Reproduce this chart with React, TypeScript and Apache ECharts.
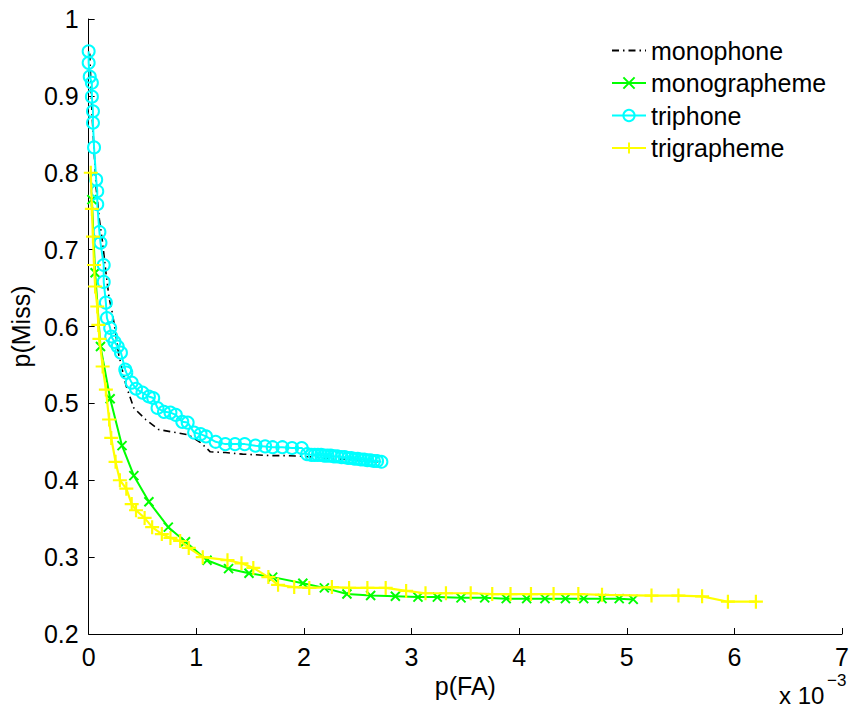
import React, { useEffect, useRef } from "react";
import * as echarts from "echarts";

// x values in units of 1e-3
const monophone: number[][] = [
  [0.01, 0.955], [0.02, 0.92], [0.03, 0.88], [0.05, 0.83], [0.07, 0.78], [0.10, 0.739],
  [0.13, 0.709], [0.16, 0.671], [0.19, 0.637], [0.22, 0.618], [0.25, 0.592], [0.28, 0.563],
  [0.31, 0.545], [0.35, 0.522], [0.42, 0.494], [0.53, 0.479], [0.65, 0.466], [0.81, 0.462],
  [0.93, 0.459], [1.04, 0.449], [1.13, 0.437], [1.27, 0.436], [1.43, 0.434], [1.70, 0.432],
  [1.85, 0.432], [2.0, 0.431], [2.2, 0.429], [2.4, 0.427], [2.55, 0.425], [2.70, 0.424],
];

const monographeme: number[][] = [
  [0.03, 0.765], [0.06, 0.67], [0.11, 0.574], [0.20, 0.506], [0.31, 0.445], [0.42, 0.406],
  [0.56, 0.372], [0.74, 0.339], [0.90, 0.320], [1.10, 0.296], [1.30, 0.285], [1.49, 0.279],
  [1.71, 0.274], [1.99, 0.266], [2.19, 0.260], [2.40, 0.252], [2.62, 0.250], [2.85, 0.249],
  [3.06, 0.248], [3.24, 0.248], [3.46, 0.247], [3.68, 0.247], [3.88, 0.246], [4.07, 0.246],
  [4.24, 0.246], [4.43, 0.246], [4.60, 0.246], [4.77, 0.246], [4.93, 0.246], [5.06, 0.245],
];

const triphone: number[][] = [
  [0.0, 0.958], [0.0, 0.943], [0.01, 0.925], [0.03, 0.917], [0.03, 0.899], [0.04, 0.880],
  [0.04, 0.865], [0.05, 0.833], [0.07, 0.791], [0.08, 0.776], [0.08, 0.759], [0.10, 0.723],
  [0.11, 0.709], [0.14, 0.680], [0.14, 0.658], [0.16, 0.631], [0.17, 0.611], [0.20, 0.598],
  [0.21, 0.587], [0.24, 0.580], [0.27, 0.574], [0.30, 0.566], [0.34, 0.544], [0.35, 0.540],
  [0.40, 0.527], [0.44, 0.519], [0.50, 0.514], [0.56, 0.509], [0.60, 0.507], [0.64, 0.494],
  [0.70, 0.489], [0.76, 0.488], [0.81, 0.485], [0.87, 0.476], [0.92, 0.475], [0.98, 0.462],
  [1.04, 0.460], [1.09, 0.457], [1.18, 0.450], [1.27, 0.447], [1.36, 0.447], [1.45, 0.447],
  [1.55, 0.445], [1.64, 0.444], [1.71, 0.443], [1.80, 0.443], [1.89, 0.442], [1.98, 0.442],
  [2.03, 0.434], [2.07, 0.433], [2.10, 0.433], [2.13, 0.433], [2.16, 0.433], [2.19, 0.432],
  [2.22, 0.432], [2.25, 0.432], [2.28, 0.431], [2.31, 0.431], [2.35, 0.430], [2.38, 0.430],
  [2.41, 0.429], [2.44, 0.429], [2.47, 0.428], [2.50, 0.428], [2.53, 0.427], [2.56, 0.427],
  [2.59, 0.426], [2.62, 0.426], [2.65, 0.425], [2.68, 0.425], [2.72, 0.424],
];

const trigrapheme: number[][] = [
  [0.02, 0.80], [0.03, 0.753], [0.04, 0.717], [0.05, 0.68], [0.06, 0.652], [0.08, 0.626],
  [0.09, 0.602], [0.10, 0.584], [0.13, 0.548], [0.16, 0.518], [0.19, 0.479], [0.21, 0.455],
  [0.25, 0.424], [0.29, 0.40], [0.35, 0.389], [0.40, 0.369], [0.44, 0.361], [0.52, 0.351],
  [0.59, 0.339], [0.68, 0.330], [0.76, 0.325], [0.85, 0.321], [0.93, 0.312], [1.06, 0.300],
  [1.29, 0.296], [1.42, 0.292], [1.53, 0.286], [1.67, 0.274], [1.76, 0.264], [1.91, 0.261],
  [2.05, 0.260], [2.26, 0.261], [2.42, 0.260], [2.59, 0.260], [2.76, 0.260], [2.95, 0.256],
  [3.13, 0.253], [3.32, 0.253], [3.55, 0.253], [3.75, 0.252], [3.92, 0.252], [4.11, 0.252],
  [4.32, 0.252], [4.55, 0.252], [4.77, 0.251], [5.23, 0.250], [5.48, 0.250], [5.70, 0.249],
  [5.94, 0.242], [6.20, 0.242],
];

const seriesNames = ["monophone", "monographeme", "triphone", "trigrapheme"];
const xTicks = [0, 1, 2, 3, 4, 5, 6, 7];
const yTicks = [0.2, 0.3, 0.4, 0.5, 0.6, 0.7, 0.8, 0.9, 1];

const FONT = "'Liberation Sans', Arial, Helvetica, sans-serif";

export default function App() {
  const ref = useRef<HTMLDivElement>(null);
  useEffect(() => {
    if (!ref.current) return;
    const chart = echarts.init(ref.current, null, { renderer: "svg" });
    const option: any = {
      animation: false,
      backgroundColor: "#ffffff",
      grid: { left: 82, right: 12, top: 19, bottom: 75, containLabel: false },
      legend: {
        data: seriesNames,
        orient: "vertical",
        left: 606,
        top: 33,
        itemWidth: 34,
        itemHeight: 14,
        itemGap: 7.5,
        textStyle: { fontFamily: FONT, fontSize: 25, color: "#000", lineHeight: 25 },
        selectedMode: false,
      },
      xAxis: {
        type: "value",
        min: xTicks[0],
        max: xTicks[xTicks.length - 1],
        interval: 1,
        name: "p(FA)",
        nameLocation: "middle",
        nameGap: 24,
        nameTextStyle: { fontFamily: FONT, fontSize: 25, color: "#000" },
        axisLine: { show: true, onZero: false, lineStyle: { color: "#000", width: 1 } },
        axisTick: { show: true, inside: true, length: 6, lineStyle: { color: "#000" } },
        axisLabel: { margin: 10, fontFamily: FONT, fontSize: 25, color: "#000" },
        splitLine: { show: false },
      },
      yAxis: {
        type: "value",
        min: yTicks[0],
        max: yTicks[yTicks.length - 1],
        interval: 0.1,
        name: "p(Miss)",
        nameLocation: "middle",
        nameGap: 50,
        nameRotate: 90,
        nameTextStyle: { fontFamily: FONT, fontSize: 25, color: "#000" },
        axisLine: { show: true, onZero: false, lineStyle: { color: "#000", width: 1 } },
        axisTick: { show: true, inside: true, length: 6, lineStyle: { color: "#000" } },
        axisLabel: {
          margin: 10,
          fontFamily: FONT,
          fontSize: 25,
          color: "#000",
          formatter: (v: number) => String(Math.round(v * 10) / 10),
        },
        splitLine: { show: false },
      },
      graphic: [
        {
          type: "text",
          x: 779,
          y: 695,
          style: { text: "x 10", fontFamily: FONT, fontSize: 24, fill: "#000", verticalAlign: "middle", align: "left" },
        },
        {
          type: "text",
          x: 827,
          y: 680,
          style: { text: "−3", fontFamily: FONT, fontSize: 17, fill: "#000", verticalAlign: "middle", align: "left" },
        },
      ],
      series: [
        {
          name: seriesNames[0],
          type: "line",
          data: monophone,
          symbol: "circle",
          showSymbol: false,
          symbolSize: 0,
          color: "#000",
          itemStyle: { opacity: 0 },
          lineStyle: { color: "#000", width: 1.6, type: [7, 4, 1.5, 4] },
          z: 2,
        },
        {
          name: seriesNames[1],
          type: "line",
          data: monographeme,
          symbol: "path://M0,0L10,10M10,0L0,10",
          symbolSize: 9,
          color: "#00ff00",
          itemStyle: { color: "none", borderColor: "#00ff00", borderWidth: 2 },
          lineStyle: { color: "#00ff00", width: 2 },
          z: 3,
        },
        {
          name: seriesNames[2],
          type: "line",
          data: triphone,
          symbol: "circle",
          symbolSize: 12,
          color: "#00ffff",
          itemStyle: { color: "none", borderColor: "#00ffff", borderWidth: 2 },
          lineStyle: { color: "#00ffff", width: 2 },
          z: 4,
        },
        {
          name: seriesNames[3],
          type: "line",
          data: trigrapheme,
          symbol: "path://M5,0L5,10M0,5L10,5",
          symbolSize: 14,
          color: "#ffff00",
          itemStyle: { color: "none", borderColor: "#ffff00", borderWidth: 2.2 },
          lineStyle: { color: "#ffff00", width: 2.2 },
          z: 5,
        },
      ],
    };
    chart.setOption(option);
    return () => chart.dispose();
  }, []);
  return <div ref={ref} style={{ width: 854, height: 709, position: "absolute", left: 0, top: 0 }} />;
}
